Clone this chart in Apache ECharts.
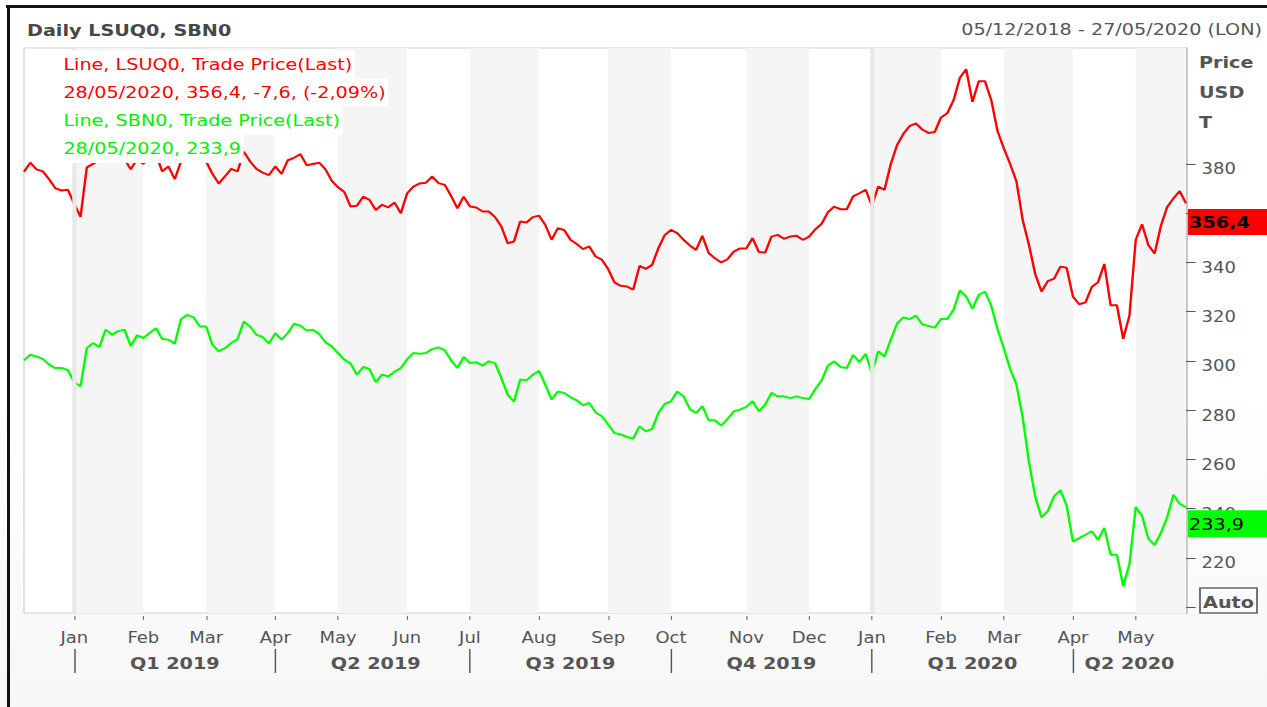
<!DOCTYPE html>
<html>
<head>
<meta charset="utf-8">
<script src="https://cdn.jsdelivr.net/npm/echarts@6/dist/echarts.min.js"></script>
<style>
html,body{margin:0;padding:0;background:#fff;overflow:hidden;}
#wrap{position:absolute;left:0;top:0;width:1267px;height:707px;overflow:hidden;background:linear-gradient(#ffffff 0%,#ffffff 55%,#f7f7f7 100%);}
#chart{position:absolute;left:0;top:0;width:1056px;height:707px;transform-origin:0 0;transform:scaleX(1.2);}
.bar{position:absolute;background:#111;}
</style>
</head>
<body>
<div id="wrap">
  <div id="chart"></div>
  <div class="bar" style="left:6px;top:5px;width:1261px;height:3px;"></div>
  <div class="bar" style="left:7px;top:5px;width:3px;height:702px;"></div>
</div>
<script>
// ---------------- data ----------------
const HOLIDAYS = ['2018-12-25','2018-12-26','2019-01-01','2019-04-19','2019-04-22','2019-05-06',
  '2019-08-26','2019-12-25','2019-12-26','2020-01-01','2020-04-10','2020-04-13','2020-05-08','2020-05-25'];
const MONTH_NAMES = ['Jan','Feb','Mar','Apr','May','Jun','Jul','Aug','Sep','Oct','Nov','Dec'];
// 360 is covered by the last-price box in the reference, so it is not written
const Y_LABELS = [220,240,260,280,300,320,340,380];
const Y_TICKS = [200,220,240,260,280,300,320,340,360,380];
const LAST_LSUQ0 = 356.4;
const LAST_SBN0 = 233.9;
const TITLE = 'Daily LSUQ0, SBN0';
const RANGE_TEXT = '05/12/2018 - 27/05/2020 (LON)';
const LEGEND_LSUQ0 = ['Line, LSUQ0, Trade Price(Last)', '28/05/2020, 356,4, -7,6, (-2,09%)'];
const LEGEND_SBN0 = ['Line, SBN0, Trade Price(Last)', '28/05/2020, 233,9'];
const UNIT_LINES = ['Price', 'USD', 'T'];

// every second trading day, 06/12/2018 .. 27/05/2020
const lsuq0 = [
376.8,380.5,377.8,377.0,373.8,370.1,369.2,369.5,363.8,358.5,
378.6,380.0,381.5,383,384,383,382,377.8,382,380,
383,384,377,379,373.8,381,385,387,385,381,
376,372,375,378,377,385,381,378,376.5,375.5,
379,376,381.5,382.5,384,379.5,380,380.5,377.8,373.1,
370.5,368.6,362.7,363,366.7,365.4,361.3,363.4,362.4,364.3,
360,368.1,370.8,372.1,372.4,374.9,372.2,371.5,367,362,
366.7,362.7,362.3,360.7,360.7,358.4,354.6,347.8,348.5,356.6,
356.2,358.4,359.0,355.2,349.2,353.9,353.2,349.2,347.5,345.4,
346.5,342.4,341.1,337.3,331.9,330.5,330.2,329,338.6,337.4,
339,345.8,351.1,353.2,351.9,349.2,346.9,345.1,350.8,343.8,
341.7,340,341.3,344.4,345.7,345.7,349.9,344.2,344.0,350.5,
351.2,349.6,350.5,350.8,349.2,350.5,353.5,355.7,360.4,362.7,
361.6,361.6,366.8,368.1,369.5,363,370.8,369.5,380,387.7,
392.2,395.4,396.5,394,392.6,393,398.9,400.6,405.9,415,
418.5,405.2,413.6,413.6,405.9,393.3,386.3,380,373,357.3,
347.1,335.2,328.2,332.4,333.4,338.3,337.8,326.1,323,323.8,
330,332,339.4,322.6,322.6,309,318.4,349.2,355.5,347.1,
343.6,354.8,362.5,366,369,364.0
];
const sbn0 = [
300.2,302.5,301.8,300.8,298.5,297.1,297.1,296.2,291.3,289.7,
305.2,307.3,305.6,312.7,310.6,312.1,312.7,306,310.4,309.3,
311.3,313.3,308.9,308.6,307,317,318.7,317.7,314,314,
306.6,303.9,305.2,307.3,308.9,316.0,314,310.6,309.7,307,
311.3,308.6,311.3,315.1,314.3,312.4,312.7,310.9,307.6,305.9,
303.2,300.5,298.9,294.4,297.5,296.7,291.4,294.4,293.7,295.7,
297.1,300.7,303.2,302.9,303.2,304.8,305.5,304.3,300.2,297.1,
301.6,299.1,299.5,298.1,299.8,299.1,293.0,286.3,283.4,292.4,
292.1,294.4,296,290.3,284.3,287.6,287,285.3,284,282,
282.9,279.1,277.5,274.2,270.7,270.1,269.1,268.5,273.4,271.4,
272.4,278.8,282.5,283.6,287.6,285.6,280.5,278.8,281.6,275.9,
275.9,273.7,276.4,279.5,280.2,281.3,283.6,279.5,282.2,287,
285.6,285.6,284.9,285.6,284.9,284.5,288.6,292.1,298.1,299.8,
297.5,297.1,302.5,299.5,302.9,295,303.9,301.8,308.6,315.2,
317.7,317.0,318.4,314.9,314.2,313.5,317.0,317.0,320.8,328.6,
326.1,321.2,326.8,328.2,322.4,312.8,305.1,296.7,290.4,277.1,
258.9,244.8,236.4,239.0,245.1,247.4,241.3,226.6,228.0,229.4,
230.8,227.3,232.2,221.3,221.3,208.5,217.5,240.6,237.1,227.8,
225.2,230.1,236.4,245.6,241.9,240.6
];

// ---------------- categories (trading days) ----------------
function tradingDays() {
  const out = [];
  let t = Date.UTC(2018, 11, 5);
  const end = Date.UTC(2020, 4, 27);
  while (t <= end) {
    const d = new Date(t);
    const wd = d.getUTCDay();
    const s = d.toISOString().slice(0, 10);
    if (wd !== 0 && wd !== 6 && HOLIDAYS.indexOf(s) < 0) out.push(s);
    t += 86400000;
  }
  return out;
}
const allDays = tradingDays();
const categories = allDays.filter((_, i) => i % 2 === 1);
const N = categories.length;

const monthStart = new Set();
const monthStarts = [];
const quarterStarts = [];
for (let k = 1; k < N; k++) {
  if (categories[k].slice(0, 7) !== categories[k - 1].slice(0, 7)) {
    monthStart.add(k); monthStarts.push(k);
    const m = +categories[k].slice(5, 7) - 1;
    if (m % 3 === 0) quarterStarts.push(k);
  }
}
const quarterStart = new Set(quarterStarts);
const quarterLabel = new Map();
quarterStarts.forEach((s, j) => {
  const e = j + 1 < quarterStarts.length ? quarterStarts[j + 1] : N - 1;
  const m = +categories[s].slice(5, 7) - 1;
  quarterLabel.set(Math.round((s + e) / 2), 'Q' + (m / 3 + 1) + ' ' + categories[s].slice(0, 4));
});
const bands = [];
monthStarts.forEach((s, j) => {
  const e = j + 1 < monthStarts.length ? monthStarts[j + 1] : N - 1;
  const m = +categories[s].slice(5, 7) - 1;
  if (m % 2 === 0) bands.push([{ xAxis: categories[s] }, { xAxis: categories[e] }]);
});
const yearLines = monthStarts.filter(k => categories[k].slice(5, 7) === '01').map(k => ({ xAxis: categories[k] }));

// ---------------- layout (chart is drawn 1/1.2 wide, stretched by CSS) ----------------
const SX = 1.2;
const X = v => v / SX;
const FONT = '"DejaVu Sans", Verdana, sans-serif';
const fmt = v => v.toFixed(1).replace('.', ',');
const RED = '#ff0000', GREEN = '#00f000';

const chart = echarts.init(document.getElementById('chart'), null, { renderer: 'svg' });

function txt(x, y, text, color, weight, align, extra) {
  return {
    type: 'text', x: x, y: y, z: 100,
    style: Object.assign({
      text: text, fill: color, font: (weight || 'normal') + ' 16px ' + FONT,
      textAlign: align || 'left', textVerticalAlign: 'middle', align: align || 'left', verticalAlign: 'middle'
    }, extra || {})
  };
}
const legendBox = { backgroundColor: '#ffffff', padding: [6, 2, 6, 2], lineHeight: 16 };

const option = {
  animation: false,
  backgroundColor: 'transparent',
  textStyle: { fontFamily: FONT },
  grid: {
    left: X(24), right: 1056 - X(1186), top: 48, bottom: 94,
    show: true, backgroundColor: '#ffffff', borderColor: '#d2d2d2', borderWidth: 1
  },
  xAxis: [{
    type: 'category', data: categories, boundaryGap: false, position: 'bottom', offset: 3,
    axisLine: { show: false },
    axisTick: { show: true, interval: i => monthStart.has(i), length: 4, lineStyle: { color: '#777', width: 1 } },
    axisLabel: {
      interval: i => monthStart.has(i), margin: 15, color: '#555', fontSize: 15, fontFamily: FONT,
      formatter: v => MONTH_NAMES[+v.slice(5, 7) - 1]
    },
    splitLine: { show: false }
  }, {
    type: 'category', data: categories, boundaryGap: false, position: 'bottom', offset: 36,
    axisLine: { show: false },
    axisTick: { show: true, interval: i => quarterStart.has(i), length: 24, lineStyle: { color: '#555', width: 1.2 } },
    axisLabel: {
      interval: i => quarterLabel.has(i), margin: 7, color: '#555', fontSize: 16, fontWeight: 'bold', fontFamily: FONT,
      formatter: (v, i) => quarterLabel.get(i) || ''
    },
    splitLine: { show: false }
  }],
  yAxis: {
    type: 'value', position: 'right', min: 197.6, max: 427.1,
    axisLine: { show: true, lineStyle: { color: '#c8c8c8', width: 2 } },
    axisTick: { show: true, length: 8, customValues: Y_TICKS, lineStyle: { color: '#555', width: 1 } },
    axisLabel: {
      customValues: Y_LABELS, margin: 13, color: '#555', fontSize: 15, fontFamily: FONT,
      verticalAlign: 'top', lineHeight: 11, formatter: v => String(v)
    },
    splitLine: { show: false }
  },
  series: [{
    name: 'LSUQ0', type: 'line', data: lsuq0, symbol: 'none', z: 3,
    lineStyle: { color: RED, width: 2 }, itemStyle: { color: RED },
    markArea: { silent: true, itemStyle: { color: '#f5f5f5' }, data: bands },
    markLine: {
      silent: true, symbol: 'none', label: { show: false },
      lineStyle: { color: '#e8e8e8', width: 3.5, type: 'solid' }, data: yearLines
    },
    markPoint: {
      silent: true, symbol: 'rect', symbolSize: [66, 26], symbolOffset: [34.6, 0],
      itemStyle: { color: RED },
      label: {
        show: true, position: 'inside', align: 'left', offset: [-32, 1], color: '#000',
        fontWeight: 'bold', fontSize: 16, fontFamily: FONT, formatter: () => fmt(LAST_LSUQ0)
      },
      data: [{ coord: [categories[N - 1], LAST_LSUQ0] }]
    }
  }, {
    name: 'SBN0', type: 'line', data: sbn0, symbol: 'none', z: 3,
    lineStyle: { color: '#00ff00', width: 2 }, itemStyle: { color: '#00ff00' },
    markPoint: {
      silent: true, symbol: 'rect', symbolSize: [66, 27], symbolOffset: [34.6, 0],
      itemStyle: { color: '#00ff00' },
      label: {
        show: true, position: 'inside', align: 'left', offset: [-32, 1], color: '#000',
        fontWeight: 'normal', fontSize: 16, fontFamily: FONT, formatter: () => fmt(LAST_SBN0)
      },
      data: [{ coord: [categories[N - 1], LAST_SBN0] }]
    }
  }],
  graphic: [
    txt(X(27), 31, TITLE, '#474747', 'bold'),
    txt(X(1262), 30, RANGE_TEXT, '#555', 'normal', 'right'),
    txt(X(1199), 63, UNIT_LINES[0], '#555', 'bold'),
    txt(X(1199), 93, UNIT_LINES[1], '#555', 'bold'),
    txt(X(1199), 123, UNIT_LINES[2], '#555', 'bold'),
    txt(X(61), 64.5, LEGEND_LSUQ0[0], RED, 'normal', 'left', legendBox),
    txt(X(61), 92.5, LEGEND_LSUQ0[1], RED, 'normal', 'left', legendBox),
    txt(X(61), 121, LEGEND_SBN0[0], GREEN, 'normal', 'left', legendBox),
    txt(X(61), 149, LEGEND_SBN0[1], GREEN, 'normal', 'left', legendBox),
    { type: 'rect', z: 100, shape: { x: X(1200), y: 588, width: X(57), height: 25 },
      style: { fill: '#fafafa', stroke: '#666', lineWidth: 1.5 } },
    txt(X(1228.5), 603, 'Auto', '#555', 'bold', 'center')
  ]
};
chart.setOption(option);
if (lsuq0.length !== N || sbn0.length !== N) console.error('length mismatch', N, lsuq0.length, sbn0.length);
</script>
</body>
</html>
